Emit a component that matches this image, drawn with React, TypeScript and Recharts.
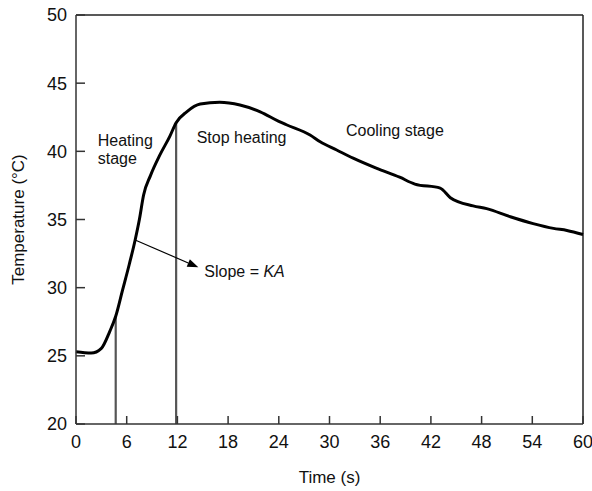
import React from "react";
import { LineChart, Line, XAxis, YAxis, ReferenceLine, ReferenceDot } from "recharts";

const timeValues = [0, 1.8, 3, 4, 4.7, 5.5, 6.3, 7.0, 7.5, 8.0, 8.8, 9.9, 11.1, 11.85, 13.1, 14.7, 17.0, 19.4, 21.8, 24.0, 24.9, 27.7, 28.9, 30.85, 32.8, 35.6, 38.3, 40.1, 43.1, 44.3, 47.0, 48.6, 51.4, 54.1, 56.5, 58.1, 60];
const temperatureValues = [25.3, 25.2, 25.55, 26.8, 27.9, 29.8, 31.7, 33.5, 35.0, 36.8, 38.2, 39.7, 41.1, 42.1, 42.9, 43.47, 43.6, 43.4, 42.9, 42.2, 41.95, 41.2, 40.7, 40.1, 39.5, 38.75, 38.1, 37.6, 37.3, 36.6, 36.0, 35.8, 35.2, 34.7, 34.35, 34.2, 33.9];
const xTicks = [0, 6, 12, 18, 24, 30, 36, 42, 48, 54, 60];
const yTicks = [20, 25, 30, 35, 40, 45, 50];
const stageMarkers = [
  { x: 4.7, top: 27.9 },
  { x: 11.85, top: 42.1 },
];
const annotationLabels = [
  { x: 2.57, y: 40.39, lines: ["Heating", "stage"] },
  { x: 14.28, y: 40.59, lines: ["Stop heating"] },
  { x: 31.95, y: 41.12, lines: ["Cooling stage"] },
];
const slopeLabel = { x: 15.18, y: 30.76 };
const slopeArrow = { from: { x: 7.0, y: 33.5 }, to: { x: 14.48, y: 31.49 } };

const data = timeValues.map((t, i) => ({ t, temp: temperatureValues[i] }));

const FONT = "'Liberation Sans', Arial, Helvetica, sans-serif";

const ArrowShape = (props: any) => {
  const { x1, y1, x2, y2 } = props;
  const dx = x2 - x1;
  const dy = y2 - y1;
  const len = Math.sqrt(dx * dx + dy * dy);
  const ux = dx / len;
  const uy = dy / len;
  const headLen = 11;
  const headW = 4;
  const bx = x2 - ux * headLen;
  const by = y2 - uy * headLen;
  const px = -uy;
  const py = ux;
  return (
    <g>
      <line x1={x1} y1={y1} x2={bx} y2={by} stroke="#000" strokeWidth={1.2} />
      <polygon
        points={`${x2},${y2} ${bx + px * headW},${by + py * headW} ${bx - px * headW},${by - py * headW}`}
        fill="#000"
      />
    </g>
  );
};

export default function App() {
  return (
    <div style={{ position: "absolute", left: 0, top: 0, width: 592, height: 491, background: "#fff" }}>
      <LineChart
        width={592}
        height={491}
        data={data}
        margin={{ top: 15, right: 9, left: 16, bottom: 37 }}
        style={{ fontFamily: FONT }}
      >
        <XAxis
          dataKey="t"
          type="number"
          domain={[0, 60]}
          ticks={xTicks}
          interval={0}
          height={30}
          tickSize={-8}
          tickMargin={19}
          stroke="#333"
          strokeWidth={1.5}
          tick={{ fill: "#111", fontSize: 18, fontFamily: FONT }}
          label={{ value: "Time (s)", position: "insideBottom", offset: -29, fill: "#111", fontSize: 17, fontFamily: FONT }}
        />
        <YAxis
          type="number"
          domain={[20, 50]}
          ticks={yTicks}
          interval={0}
          width={60}
          tickSize={-9}
          tickMargin={18}
          stroke="#333"
          strokeWidth={1.5}
          tick={{ fill: "#111", fontSize: 18, fontFamily: FONT }}
          label={{ value: "Temperature (°C)", angle: -90, position: "insideLeft", offset: 2, fill: "#111", fontSize: 17, fontFamily: FONT, style: { textAnchor: "middle" } }}
        />
        <ReferenceLine y={50} stroke="#222" strokeWidth={1.5} />
        <ReferenceLine x={60} stroke="#222" strokeWidth={1.5} />
        {stageMarkers.map((m, i) => (
          <ReferenceLine
            key={`m${i}`}
            segment={[{ x: m.x, y: 20 }, { x: m.x, y: m.top }]}
            stroke="#555"
            strokeWidth={2.2}
          />
        ))}
        <ReferenceLine
          segment={[slopeArrow.from, slopeArrow.to]}
          shape={ArrowShape}
        />
        <Line
          type="monotone"
          dataKey="temp"
          stroke="#000"
          strokeWidth={3}
          dot={false}
          isAnimationActive={false}
        />
        {annotationLabels.map((a, i) => (
          <ReferenceDot
            key={`a${i}`}
            x={a.x}
            y={a.y}
            r={0}
            shape={(p: any) => (
              <text x={p.cx} y={p.cy} fontSize={16} fontFamily={FONT} fill="#111">
                {a.lines.map((ln, j) => (
                  <tspan key={j} x={p.cx} dy={j === 0 ? 0 : 18}>
                    {ln}
                  </tspan>
                ))}
              </text>
            )}
          />
        ))}
        <ReferenceDot
          x={slopeLabel.x}
          y={slopeLabel.y}
          r={0}
          shape={(p: any) => (
            <text x={p.cx} y={p.cy} fontSize={16} fontFamily={FONT} fill="#111">
              Slope = <tspan fontStyle="italic">KA</tspan>
            </text>
          )}
        />
      </LineChart>
    </div>
  );
}
